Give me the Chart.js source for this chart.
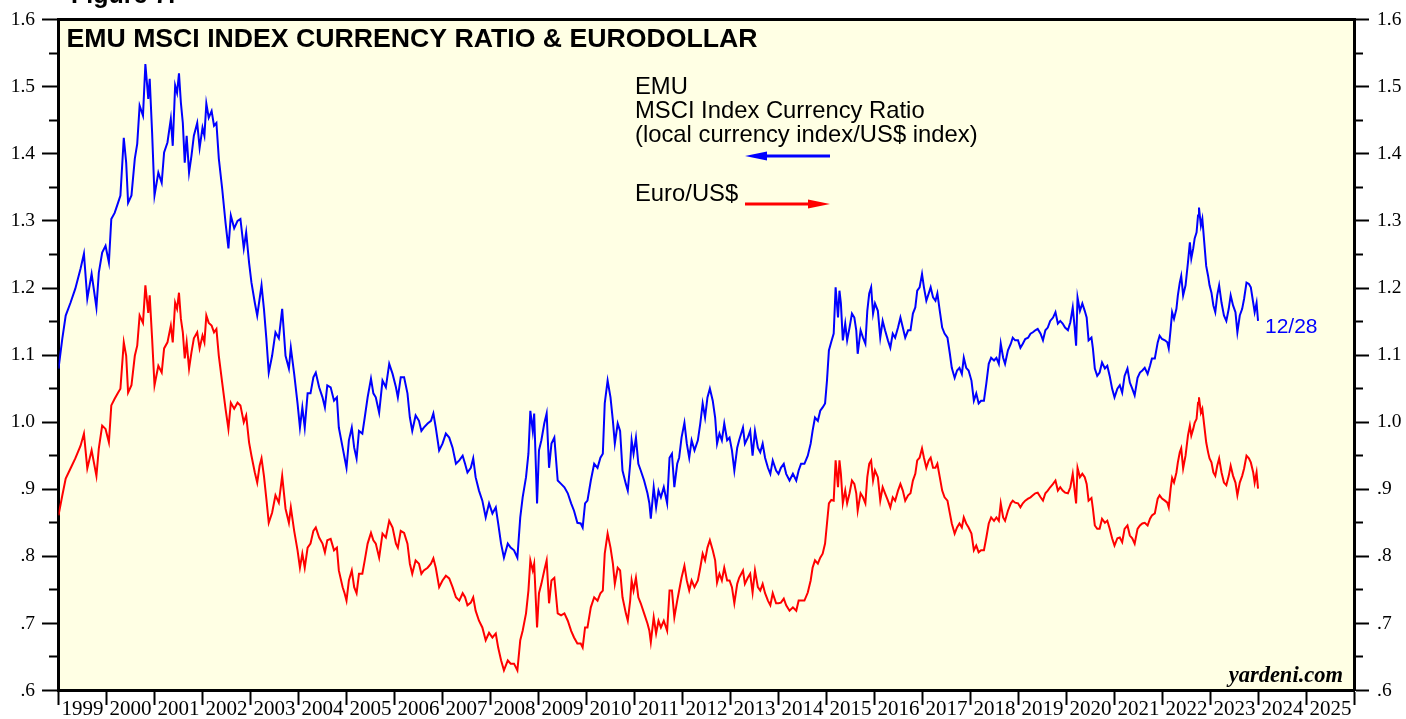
<!DOCTYPE html>
<html>
<head>
<meta charset="utf-8">
<script src="https://cdn.jsdelivr.net/npm/chart.js@4/dist/chart.umd.min.js"></script>
<style>
html,body{margin:0;padding:0;background:#ffffff;overflow:hidden;}
#wrap{width:1406px;height:719px;position:relative;}
canvas{display:block;}
</style>
</head>
<body>
<div id="wrap"><canvas id="c" width="1406" height="719"></canvas></div>
<script>
// ---------------- DATA ----------------
const dates = [
1999.00,1999.08,1999.15,1999.25,1999.35,1999.46,1999.53,1999.60,1999.69,1999.79,1999.84,1999.91,1999.98,
2000.05,2000.10,2000.17,2000.24,2000.29,2000.36,2000.41,2000.45,2000.52,2000.59,2000.64,2000.69,2000.76,2000.81,2000.87,2000.90,2000.95,
2001.00,2001.08,2001.15,2001.20,2001.27,2001.34,2001.38,2001.43,2001.47,2001.51,2001.55,2001.59,2001.63,2001.67,2001.72,2001.77,2001.82,2001.89,2001.94,
2002.00,2002.04,2002.08,2002.13,2002.19,2002.24,2002.29,2002.34,2002.41,2002.48,2002.54,2002.59,2002.66,2002.73,2002.79,2002.86,2002.91,2002.97,
2003.02,2003.09,2003.14,2003.19,2003.23,2003.28,2003.33,2003.38,2003.45,2003.52,2003.59,2003.66,2003.73,2003.80,
2003.84,2003.91,2003.98,2004.03,2004.08,2004.13,2004.19,2004.25,2004.31,2004.36,2004.43,2004.50,2004.55,2004.60,2004.67,2004.74,2004.80,2004.84,2004.92,2004.96,
2005.00,2005.05,2005.11,2005.16,2005.21,2005.26,2005.33,2005.38,2005.44,2005.51,2005.56,2005.61,2005.68,2005.75,2005.82,2005.89,2005.96,
2006.03,2006.07,2006.13,2006.20,2006.27,2006.32,2006.37,2006.44,2006.51,2006.56,2006.61,2006.69,2006.76,2006.81,2006.86,2006.93,
2007.00,2007.07,2007.14,2007.21,2007.28,2007.35,2007.42,2007.47,2007.52,2007.59,2007.64,2007.69,2007.76,2007.83,2007.90,2007.97,
2008.04,2008.11,2008.16,2008.22,2008.28,2008.36,2008.42,2008.49,2008.56,2008.62,2008.67,2008.74,2008.79,2008.83,2008.88,2008.91,2008.97,
2009.01,2009.06,2009.12,2009.17,2009.22,2009.27,2009.33,2009.40,2009.47,2009.54,2009.61,2009.68,2009.74,2009.81,2009.88,2009.92,2009.97,
2010.02,2010.09,2010.16,2010.23,2010.29,2010.34,2010.38,2010.44,2010.50,2010.55,2010.59,2010.65,2010.70,2010.75,2010.82,2010.86,2010.91,2010.94,2010.98,
2011.03,2011.08,2011.13,2011.20,2011.27,2011.31,2011.34,2011.40,2011.45,2011.50,2011.55,2011.61,2011.68,2011.73,2011.78,2011.83,2011.89,2011.93,2011.98,
2012.04,2012.09,2012.14,2012.19,2012.25,2012.32,2012.37,2012.42,2012.47,2012.52,2012.57,2012.63,2012.68,2012.72,2012.77,2012.82,2012.87,2012.93,2012.98,
2013.03,2013.08,2013.14,2013.18,2013.26,2013.30,2013.36,2013.41,2013.46,2013.51,2013.57,2013.62,2013.67,2013.72,2013.78,2013.83,2013.88,2013.95,
2014.00,2014.05,2014.11,2014.16,2014.23,2014.30,2014.37,2014.42,2014.47,2014.54,2014.61,2014.67,2014.71,2014.76,2014.82,2014.87,2014.92,2014.97,
2015.01,2015.05,2015.10,2015.15,2015.19,2015.24,2015.27,2015.30,2015.34,2015.39,2015.43,2015.48,2015.53,2015.58,2015.62,2015.65,2015.71,2015.76,2015.81,2015.85,2015.89,2015.93,2015.97,
2016.01,2016.07,2016.12,2016.17,2016.22,2016.28,2016.33,2016.38,2016.43,2016.49,2016.54,2016.59,2016.64,2016.70,2016.75,2016.80,2016.85,2016.89,2016.94,2016.99,
2017.03,2017.08,2017.13,2017.17,2017.22,2017.27,2017.31,2017.36,2017.41,2017.46,2017.52,2017.57,2017.61,2017.67,2017.72,2017.77,2017.82,2017.86,2017.91,2017.96,
2018.02,2018.07,2018.12,2018.17,2018.22,2018.28,2018.33,2018.38,2018.43,2018.49,2018.54,2018.59,2018.63,2018.68,2018.72,2018.78,2018.84,2018.88,2018.93,2018.99,
2019.04,2019.09,2019.14,2019.20,2019.25,2019.30,2019.35,2019.40,2019.46,2019.51,2019.56,2019.61,2019.66,2019.72,2019.77,2019.82,2019.87,2019.92,2019.97,
2020.03,2020.08,2020.13,2020.17,2020.20,2020.23,2020.28,2020.33,2020.38,2020.42,2020.46,2020.52,2020.55,2020.59,2020.64,2020.69,2020.74,2020.80,2020.85,2020.90,2020.95,
2021.00,2021.06,2021.11,2021.16,2021.21,2021.27,2021.32,2021.37,2021.42,2021.48,2021.53,2021.58,2021.63,2021.69,2021.74,2021.78,2021.84,2021.90,2021.94,2021.99,
2022.05,2022.10,2022.13,2022.17,2022.20,2022.24,2022.29,2022.32,2022.36,2022.39,2022.43,2022.48,2022.53,2022.57,2022.60,2022.64,2022.67,2022.71,2022.74,2022.76,2022.80,2022.83,2022.87,2022.91,2022.95,2022.98,
2023.02,2023.06,2023.10,2023.14,2023.18,2023.23,2023.28,2023.33,2023.38,2023.42,2023.47,2023.52,2023.56,2023.61,2023.66,2023.70,2023.75,2023.80,2023.84,2023.89,2023.92,2023.96,2023.99
];

// EMU MSCI Index Currency Ratio (local currency index / US$ index) — blue
const emuCurrencyRatio = [
1.080,1.125,1.159,1.178,1.199,1.229,1.251,1.184,1.221,1.171,1.223,1.253,1.263,
1.238,1.303,1.312,1.327,1.338,1.424,1.387,1.327,1.338,1.393,1.415,1.472,1.457,1.534,1.482,1.512,1.432,
1.338,1.372,1.357,1.402,1.417,1.452,1.412,1.502,1.491,1.520,1.476,1.446,1.387,1.427,1.372,1.397,1.427,1.446,1.409,
1.439,1.427,1.475,1.454,1.464,1.442,1.446,1.393,1.348,1.297,1.259,1.308,1.289,1.300,1.303,1.259,1.283,1.238,
1.208,1.178,1.159,1.184,1.204,1.169,1.125,1.074,1.099,1.134,1.125,1.169,1.099,1.080,
1.111,1.072,1.028,0.992,1.022,0.992,1.043,1.043,1.067,1.074,1.052,1.037,1.022,1.055,1.052,1.032,1.037,0.992,0.962,0.947,
0.932,0.973,0.992,0.962,0.946,0.987,0.983,1.007,1.037,1.065,1.043,1.037,1.014,1.062,1.052,1.087,1.072,
1.052,1.037,1.067,1.067,1.043,1.007,0.987,1.010,1.002,0.987,0.992,0.998,1.002,1.013,0.992,0.958,
0.968,0.983,0.977,0.962,0.938,0.943,0.950,0.938,0.925,0.932,0.946,0.918,0.898,0.883,0.858,0.879,
0.864,0.873,0.849,0.819,0.798,0.819,0.813,0.809,0.798,0.858,0.888,0.918,0.953,1.017,0.987,1.013,0.879,
0.958,0.973,0.998,1.013,0.932,0.968,0.977,0.913,0.908,0.903,0.894,0.879,0.868,0.850,0.849,0.843,0.879,
0.883,0.913,0.938,0.932,0.947,0.953,1.028,1.062,1.037,1.002,0.968,0.998,0.987,0.928,0.908,0.898,0.938,0.973,0.953,
0.977,0.938,0.928,0.913,0.894,0.879,0.856,0.903,0.873,0.898,0.888,0.903,0.879,0.947,0.953,0.903,0.938,0.947,0.977,
0.999,0.968,0.947,0.973,0.958,0.973,0.998,1.028,1.007,1.037,1.050,1.032,1.007,0.968,0.983,0.973,0.998,0.973,0.977,
0.958,0.928,0.962,0.973,0.992,0.968,0.977,0.987,0.950,0.987,0.962,0.955,0.968,0.947,0.932,0.923,0.943,0.928,
0.923,0.932,0.938,0.923,0.913,0.923,0.913,0.928,0.938,0.938,0.950,0.968,0.987,1.007,1.002,1.017,1.022,1.028,
1.062,1.107,1.120,1.132,1.201,1.156,1.196,1.177,1.122,1.147,1.122,1.141,1.162,1.156,1.137,1.102,1.137,1.126,1.117,1.166,1.192,1.201,1.162,
1.177,1.166,1.126,1.151,1.137,1.122,1.111,1.132,1.126,1.141,1.156,1.141,1.126,1.137,1.137,1.162,1.171,1.196,1.201,1.221,
1.201,1.181,1.192,1.201,1.186,1.181,1.192,1.166,1.141,1.132,1.126,1.102,1.081,1.066,1.077,1.081,1.072,1.096,1.081,1.077,
1.062,1.032,1.043,1.028,1.032,1.032,1.058,1.087,1.096,1.092,1.096,1.087,1.117,1.096,1.087,1.107,1.117,1.126,1.122,1.122,
1.111,1.117,1.124,1.126,1.132,1.134,1.137,1.139,1.132,1.122,1.137,1.141,1.151,1.156,1.164,1.147,1.151,1.147,1.141,
1.137,1.149,1.171,1.141,1.114,1.186,1.166,1.177,1.166,1.156,1.122,1.126,1.110,1.080,1.069,1.074,1.089,1.080,1.084,1.069,1.050,
1.037,1.050,1.055,1.044,1.069,1.080,1.059,1.050,1.040,1.066,1.074,1.077,1.081,1.072,1.084,1.095,1.095,1.119,1.129,1.124,
1.122,1.119,1.110,1.139,1.164,1.154,1.169,1.189,1.208,1.218,1.189,1.204,1.238,1.268,1.244,1.259,1.274,1.283,1.308,1.320,1.293,1.303,1.268,1.233,1.218,1.204,
1.193,1.174,1.164,1.189,1.204,1.178,1.159,1.151,1.169,1.189,1.174,1.164,1.134,1.159,1.169,1.184,1.208,1.206,1.201,1.178,1.164,1.178,1.151
];

// Euro / US$ — red
const euroPerDollar = [
0.861,0.891,0.916,0.931,0.946,0.965,0.983,0.931,0.958,0.920,0.961,0.995,0.990,
0.970,1.025,1.035,1.044,1.050,1.119,1.099,1.044,1.055,1.099,1.114,1.159,1.148,1.204,1.163,1.189,1.125,
1.055,1.084,1.074,1.110,1.119,1.144,1.119,1.178,1.169,1.193,1.154,1.134,1.095,1.119,1.080,1.104,1.125,1.134,1.110,
1.129,1.119,1.159,1.148,1.144,1.134,1.139,1.099,1.059,1.020,0.990,1.029,1.020,1.029,1.025,1.000,1.010,0.970,
0.950,0.925,0.910,0.935,0.946,0.920,0.886,0.850,0.865,0.891,0.880,0.920,0.871,0.850,
0.873,0.838,0.809,0.783,0.804,0.783,0.813,0.819,0.838,0.843,0.828,0.819,0.806,0.824,0.826,0.809,0.813,0.779,0.754,0.745,
0.734,0.764,0.779,0.754,0.745,0.774,0.774,0.794,0.819,0.835,0.824,0.819,0.798,0.834,0.828,0.853,0.843,
0.819,0.813,0.838,0.835,0.819,0.789,0.774,0.794,0.789,0.774,0.779,0.783,0.789,0.797,0.783,0.754,
0.764,0.771,0.767,0.754,0.739,0.734,0.745,0.739,0.727,0.731,0.739,0.719,0.704,0.694,0.675,0.686,
0.679,0.685,0.664,0.645,0.630,0.645,0.640,0.640,0.630,0.675,0.689,0.715,0.749,0.794,0.779,0.789,0.694,
0.745,0.759,0.779,0.794,0.730,0.764,0.768,0.715,0.712,0.715,0.704,0.689,0.679,0.670,0.670,0.664,0.694,
0.694,0.724,0.739,0.734,0.745,0.749,0.804,0.834,0.813,0.789,0.759,0.783,0.779,0.739,0.715,0.704,0.734,0.764,0.749,
0.768,0.739,0.730,0.715,0.700,0.689,0.672,0.709,0.685,0.704,0.694,0.704,0.689,0.749,0.749,0.709,0.734,0.749,0.768,
0.786,0.764,0.749,0.764,0.754,0.764,0.783,0.804,0.794,0.813,0.824,0.809,0.794,0.761,0.774,0.764,0.783,0.764,0.764,
0.754,0.730,0.759,0.768,0.779,0.759,0.768,0.774,0.746,0.779,0.754,0.749,0.759,0.745,0.734,0.727,0.745,0.730,
0.730,0.731,0.737,0.727,0.719,0.724,0.719,0.734,0.734,0.734,0.746,0.764,0.783,0.794,0.789,0.798,0.804,0.819,
0.849,0.879,0.884,0.883,0.943,0.903,0.943,0.923,0.879,0.898,0.879,0.894,0.913,0.908,0.894,0.868,0.894,0.888,0.879,0.918,0.938,0.943,0.913,
0.928,0.918,0.883,0.903,0.894,0.883,0.873,0.888,0.883,0.898,0.908,0.898,0.883,0.891,0.894,0.913,0.923,0.943,0.947,0.961,
0.947,0.932,0.943,0.947,0.932,0.932,0.938,0.918,0.898,0.888,0.883,0.864,0.849,0.834,0.843,0.849,0.843,0.858,0.849,0.843,
0.834,0.809,0.816,0.806,0.809,0.809,0.828,0.849,0.858,0.853,0.858,0.853,0.879,0.858,0.853,0.868,0.879,0.883,0.880,0.879,
0.873,0.879,0.883,0.886,0.888,0.891,0.894,0.895,0.888,0.883,0.894,0.898,0.903,0.908,0.913,0.898,0.903,0.898,0.895,
0.894,0.903,0.923,0.898,0.879,0.932,0.918,0.923,0.918,0.908,0.883,0.887,0.871,0.846,0.841,0.841,0.856,0.850,0.853,0.841,0.827,
0.816,0.827,0.828,0.821,0.841,0.846,0.831,0.827,0.819,0.841,0.846,0.849,0.850,0.846,0.856,0.861,0.864,0.886,0.891,0.886,
0.883,0.880,0.873,0.901,0.917,0.910,0.925,0.940,0.955,0.961,0.931,0.950,0.980,0.995,0.980,0.990,0.999,1.005,1.029,1.037,1.014,1.020,0.995,0.970,0.955,0.946,
0.940,0.925,0.920,0.935,0.946,0.925,0.910,0.906,0.920,0.935,0.920,0.910,0.891,0.910,0.920,0.931,0.950,0.946,0.940,0.925,0.910,0.925,0.901
];

const yearTicks = [1999,2000,2001,2002,2003,2004,2005,2006,2007,2008,2009,2010,2011,2012,2013,2014,2015,2016,2017,2018,2019,2020,2021,2022,2023,2024,2025,2026];
const yTickValues = [0.6,0.65,0.7,0.75,0.8,0.85,0.9,0.95,1.0,1.05,1.1,1.15,1.2,1.25,1.3,1.35,1.4,1.45,1.5,1.55,1.6];

const chartTitle = 'EMU MSCI INDEX CURRENCY RATIO & EURODOLLAR';
const legendLines = ['EMU', 'MSCI Index Currency Ratio', '(local currency index/US$ index)'];
const legendRed = 'Euro/US$';
const lastDateLabel = '12/28';
const sourceLabel = 'yardeni.com';
const figureLabel = 'Figure 7.';

// ---------------- helpers ----------------
const SANS = "'Liberation Sans', Arial, Helvetica, sans-serif";
const SERIF = "'Liberation Serif', 'Times New Roman', Times, serif";
const isMajor = v => Math.abs(v * 10 - Math.round(v * 10)) < 1e-6;
const fmtY = v => (v >= 0.999 ? v.toFixed(1) : v.toFixed(1).substring(1));

const blueSeries = dates.map((d, i) => ({x: d, y: emuCurrencyRatio[i]}));
const redSeries = dates.map((d, i) => ({x: d, y: euroPerDollar[i]}));

const bgPlugin = {
  id: 'bg',
  beforeDraw(chart) {
    const {ctx, chartArea: a} = chart;
    ctx.save();
    ctx.fillStyle = '#ffffff';
    ctx.fillRect(0, 0, chart.width, chart.height);
    ctx.fillStyle = '#ffffe4';
    ctx.fillRect(a.left, a.top, a.right - a.left, a.bottom - a.top);
    ctx.restore();
  }
};

function arrow(ctx, x1, x2, y, color, headAtStart) {
  const headLen = 22, headHalf = 4.5;
  ctx.save();
  ctx.strokeStyle = color; ctx.fillStyle = color; ctx.lineWidth = 3;
  ctx.beginPath();
  if (headAtStart) { ctx.moveTo(x1 + headLen - 2, y); ctx.lineTo(x2, y); }
  else { ctx.moveTo(x1, y); ctx.lineTo(x2 - headLen + 2, y); }
  ctx.stroke();
  ctx.beginPath();
  if (headAtStart) {
    ctx.moveTo(x1, y); ctx.lineTo(x1 + headLen, y - headHalf); ctx.lineTo(x1 + headLen, y + headHalf);
  } else {
    ctx.moveTo(x2, y); ctx.lineTo(x2 - headLen, y - headHalf); ctx.lineTo(x2 - headLen, y + headHalf);
  }
  ctx.closePath(); ctx.fill();
  ctx.restore();
}

const textPlugin = {
  id: 'texts',
  afterDraw(chart) {
    const ctx = chart.ctx;
    ctx.save();
    ctx.textBaseline = 'alphabetic';
    // Figure label (cut off at top)
    ctx.fillStyle = '#000';
    ctx.font = 'bold 25px ' + SANS;
    ctx.textAlign = 'left';
    ctx.fillText(figureLabel, 71, 3);
    // Title (slightly stretched)
    ctx.font = 'bold 25px ' + SANS;
    const tw = ctx.measureText(chartTitle).width;
    ctx.save();
    ctx.translate(66.5, 47);
    ctx.scale(691 / tw, 1);
    ctx.fillText(chartTitle, 0, 0);
    ctx.restore();
    // Legend
    ctx.font = '23.8px ' + SANS;
    ctx.fillText(legendLines[0], 635, 94);
    ctx.fillText(legendLines[1], 635, 118);
    ctx.fillText(legendLines[2], 635, 142);
    ctx.fillText(legendRed, 635, 201);
    arrow(ctx, 745, 830, 156, '#0000ff', true);
    arrow(ctx, 745, 830, 204, '#ff0000', false);
    // Last date label
    ctx.fillStyle = '#0000ff';
    ctx.font = '21px ' + SANS;
    ctx.fillText(lastDateLabel, 1265, 333);
    // Source
    ctx.fillStyle = '#000';
    ctx.font = 'italic bold 22.5px ' + SERIF;
    ctx.textAlign = 'right';
    ctx.fillText(sourceLabel, 1343, 682);
    ctx.restore();
  }
};

const chart = new Chart(document.getElementById('c'), {
  type: 'line',
  data: {
    datasets: [
      {label: 'EMU MSCI Index Currency Ratio', data: blueSeries, borderColor: '#0000ff', borderWidth: 2,
       pointRadius: 0, tension: 0, xAxisID: 'x', yAxisID: 'y'},
      {label: 'Euro/US$', data: redSeries, borderColor: '#ff0000', borderWidth: 2,
       pointRadius: 0, tension: 0, xAxisID: 'x', yAxisID: 'y'}
    ]
  },
  options: {
    responsive: false,
    devicePixelRatio: 1,
    animation: false,
    events: [],
    layout: {padding: 0},
    plugins: {legend: {display: false}, tooltip: {enabled: false}, title: {display: false}},
    scales: {
      x: {
        type: 'linear', position: 'bottom', display: true, min: 1999, max: 2026,
        afterBuildTicks: s => { s.ticks = yearTicks.map(v => ({value: v})); },
        afterFit: s => { s.height = 719 - 690.5; },
        ticks: {
          autoSkip: false, maxRotation: 0, minRotation: 0, labelOffset: 24, padding: -8.5,
          color: '#000', font: {family: SERIF, size: 21},
          callback: v => (v < 2026 ? String(v) : '')
        },
        grid: {drawOnChartArea: false, drawTicks: true, tickLength: 14.5, tickWidth: 2, tickColor: '#000'},
        border: {display: true, color: '#000', width: 3}
      },
      xTop: {
        type: 'linear', position: 'top', display: true, min: 1999, max: 2026,
        afterFit: s => { s.height = 19.5; },
        ticks: {display: false},
        grid: {display: false, drawOnChartArea: false, drawTicks: false},
        border: {display: true, color: '#000', width: 3}
      },
      y: {
        type: 'linear', position: 'left', display: true, min: 0.6, max: 1.6,
        afterBuildTicks: s => { s.ticks = yTickValues.map(v => ({value: v})); },
        afterFit: s => { s.width = 58.5; },
        ticks: {
          autoSkip: false, padding: 7, color: '#000', font: {family: SERIF, size: 19.5},
          callback: v => (isMajor(v) ? fmtY(v) : '')
        },
        grid: {
          drawOnChartArea: false, drawTicks: true, tickLength: 16.5, tickWidth: 2, tickColor: '#000',
          tickBorderDash: c => (c.tick && isMajor(c.tick.value) ? [] : [0, 7, 8, 100])
        },
        border: {display: true, color: '#000', width: 3}
      },
      yRight: {
        type: 'linear', position: 'right', display: true, min: 0.6, max: 1.6,
        afterBuildTicks: s => { s.ticks = yTickValues.map(v => ({value: v})); },
        afterFit: s => { s.width = 1406 - 1354.5; },
        ticks: {
          autoSkip: false, padding: 8, color: '#000', font: {family: SERIF, size: 19.5},
          callback: v => (isMajor(v) ? fmtY(v) : '')
        },
        grid: {
          drawOnChartArea: false, drawTicks: true, tickLength: 14.5, tickWidth: 2, tickColor: '#000',
          tickBorderDash: c => (c.tick && isMajor(c.tick.value) ? [] : [7, 100])
        },
        border: {display: true, color: '#000', width: 3}
      }
    }
  },
  plugins: [bgPlugin, textPlugin]
});
</script>
</body>
</html>
